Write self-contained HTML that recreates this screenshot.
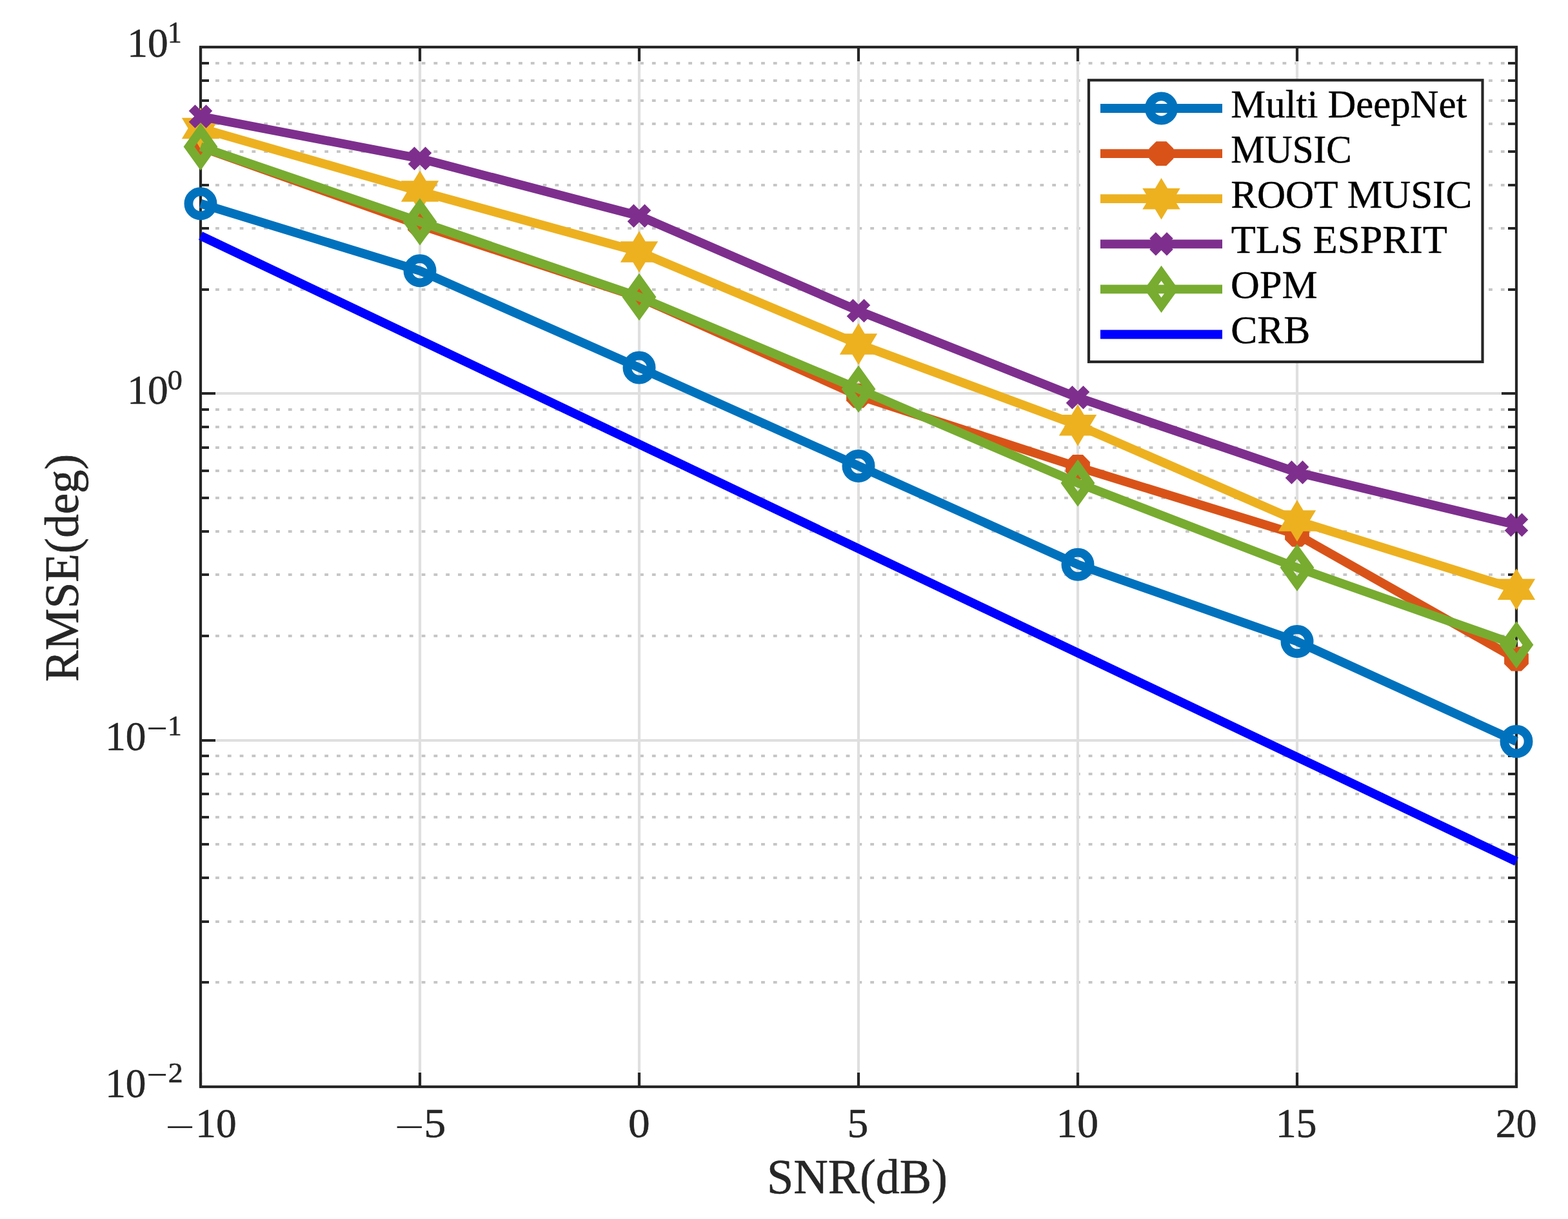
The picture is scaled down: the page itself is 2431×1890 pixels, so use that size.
<!DOCTYPE html>
<html><head><meta charset="utf-8"><title>RMSE vs SNR</title><style>html,body{margin:0;padding:0;background:#fff;overflow:hidden}svg{display:block}</style></head><body>
<svg width="2431" height="1890" viewBox="0 0 2431 1890"><rect width="2431" height="1890" fill="#ffffff"/><g>
<line x1="315.25" y1="449" x2="2349" y2="449" stroke="#c6c6c6" stroke-width="4.2" stroke-dasharray="5.8 13"/>
<line x1="315.25" y1="354" x2="2349" y2="354" stroke="#c6c6c6" stroke-width="4.2" stroke-dasharray="5.8 13"/>
<line x1="315.25" y1="287" x2="2349" y2="287" stroke="#c6c6c6" stroke-width="4.2" stroke-dasharray="5.8 13"/>
<line x1="315.25" y1="235" x2="2349" y2="235" stroke="#c6c6c6" stroke-width="4.2" stroke-dasharray="5.8 13"/>
<line x1="315.25" y1="192" x2="2349" y2="192" stroke="#c6c6c6" stroke-width="4.2" stroke-dasharray="5.8 13"/>
<line x1="315.25" y1="156" x2="2349" y2="156" stroke="#c6c6c6" stroke-width="4.2" stroke-dasharray="5.8 13"/>
<line x1="315.25" y1="125" x2="2349" y2="125" stroke="#c6c6c6" stroke-width="4.2" stroke-dasharray="5.8 13"/>
<line x1="315.25" y1="98" x2="2349" y2="98" stroke="#c6c6c6" stroke-width="4.2" stroke-dasharray="5.8 13"/>
<line x1="315.25" y1="986" x2="2349" y2="986" stroke="#c6c6c6" stroke-width="4.2" stroke-dasharray="5.8 13"/>
<line x1="315.25" y1="891" x2="2349" y2="891" stroke="#c6c6c6" stroke-width="4.2" stroke-dasharray="5.8 13"/>
<line x1="315.25" y1="824" x2="2349" y2="824" stroke="#c6c6c6" stroke-width="4.2" stroke-dasharray="5.8 13"/>
<line x1="315.25" y1="772" x2="2349" y2="772" stroke="#c6c6c6" stroke-width="4.2" stroke-dasharray="5.8 13"/>
<line x1="315.25" y1="730" x2="2349" y2="730" stroke="#c6c6c6" stroke-width="4.2" stroke-dasharray="5.8 13"/>
<line x1="315.25" y1="694" x2="2349" y2="694" stroke="#c6c6c6" stroke-width="4.2" stroke-dasharray="5.8 13"/>
<line x1="315.25" y1="662" x2="2349" y2="662" stroke="#c6c6c6" stroke-width="4.2" stroke-dasharray="5.8 13"/>
<line x1="315.25" y1="635" x2="2349" y2="635" stroke="#c6c6c6" stroke-width="4.2" stroke-dasharray="5.8 13"/>
<line x1="315.25" y1="1523" x2="2349" y2="1523" stroke="#c6c6c6" stroke-width="4.2" stroke-dasharray="5.8 13"/>
<line x1="315.25" y1="1429" x2="2349" y2="1429" stroke="#c6c6c6" stroke-width="4.2" stroke-dasharray="5.8 13"/>
<line x1="315.25" y1="1361" x2="2349" y2="1361" stroke="#c6c6c6" stroke-width="4.2" stroke-dasharray="5.8 13"/>
<line x1="315.25" y1="1309" x2="2349" y2="1309" stroke="#c6c6c6" stroke-width="4.2" stroke-dasharray="5.8 13"/>
<line x1="315.25" y1="1267" x2="2349" y2="1267" stroke="#c6c6c6" stroke-width="4.2" stroke-dasharray="5.8 13"/>
<line x1="315.25" y1="1231" x2="2349" y2="1231" stroke="#c6c6c6" stroke-width="4.2" stroke-dasharray="5.8 13"/>
<line x1="315.25" y1="1200" x2="2349" y2="1200" stroke="#c6c6c6" stroke-width="4.2" stroke-dasharray="5.8 13"/>
<line x1="315.25" y1="1172" x2="2349" y2="1172" stroke="#c6c6c6" stroke-width="4.2" stroke-dasharray="5.8 13"/>
<line x1="651" y1="73.0" x2="651" y2="1685.0" stroke="#dfdfdf" stroke-width="4.2"/>
<line x1="991" y1="73.0" x2="991" y2="1685.0" stroke="#dfdfdf" stroke-width="4.2"/>
<line x1="1331" y1="73.0" x2="1331" y2="1685.0" stroke="#dfdfdf" stroke-width="4.2"/>
<line x1="1671" y1="73.0" x2="1671" y2="1685.0" stroke="#dfdfdf" stroke-width="4.2"/>
<line x1="2011" y1="73.0" x2="2011" y2="1685.0" stroke="#dfdfdf" stroke-width="4.2"/>
<line x1="311.0" y1="610" x2="2351.0" y2="610" stroke="#dfdfdf" stroke-width="4.2"/>
<line x1="311.0" y1="1148" x2="2351.0" y2="1148" stroke="#dfdfdf" stroke-width="4.2"/>
<path d="M311 73h23M2351 73h-23M311 610h23M2351 610h-23M311 449h13M2351 449h-13M311 354h13M2351 354h-13M311 287h13M2351 287h-13M311 235h13M2351 235h-13M311 192h13M2351 192h-13M311 156h13M2351 156h-13M311 125h13M2351 125h-13M311 98h13M2351 98h-13M311 1148h23M2351 1148h-23M311 986h13M2351 986h-13M311 891h13M2351 891h-13M311 824h13M2351 824h-13M311 772h13M2351 772h-13M311 730h13M2351 730h-13M311 694h13M2351 694h-13M311 662h13M2351 662h-13M311 635h13M2351 635h-13M311 1685h23M2351 1685h-23M311 1523h13M2351 1523h-13M311 1429h13M2351 1429h-13M311 1361h13M2351 1361h-13M311 1309h13M2351 1309h-13M311 1267h13M2351 1267h-13M311 1231h13M2351 1231h-13M311 1200h13M2351 1200h-13M311 1172h13M2351 1172h-13M311 1685v-22M311 73v22M651 1685v-22M651 73v22M991 1685v-22M991 73v22M1331 1685v-22M1331 73v22M1671 1685v-22M1671 73v22M2011 1685v-22M2011 73v22M2351 1685v-22M2351 73v22" stroke="#262626" stroke-width="4.2" fill="none"/>
<rect x="311.0" y="73.0" width="2040.0" height="1612.0" fill="none" stroke="#262626" stroke-width="4.2" stroke-linejoin="miter" stroke-linecap="square"/>
</g>
<path d="M311 315.7L651 419.8L991 570L1331 722.4L1671 875.2L2011 994.6L2351 1149.6" fill="none" stroke="#0072bd" stroke-width="13.8" stroke-linejoin="round"/>
<circle cx="311" cy="315.7" r="18.6" fill="none" stroke="#0072bd" stroke-width="13.8"/>
<circle cx="651" cy="419.8" r="18.6" fill="none" stroke="#0072bd" stroke-width="13.8"/>
<circle cx="991" cy="570" r="18.6" fill="none" stroke="#0072bd" stroke-width="13.8"/>
<circle cx="1331" cy="722.4" r="18.6" fill="none" stroke="#0072bd" stroke-width="13.8"/>
<circle cx="1671" cy="875.2" r="18.6" fill="none" stroke="#0072bd" stroke-width="13.8"/>
<circle cx="2011" cy="994.6" r="18.6" fill="none" stroke="#0072bd" stroke-width="13.8"/>
<circle cx="2351" cy="1149.6" r="18.6" fill="none" stroke="#0072bd" stroke-width="13.8"/>
<path d="M311 228L651 349L991 461L1331 613.5L1671 724L2011 828.9L2351 1021.7" fill="none" stroke="#d95319" stroke-width="13.8" stroke-linejoin="round"/>
<polygon points="329.9,235.83 318.83,246.9 303.17,246.9 292.1,235.83 292.1,220.17 303.17,209.1 318.83,209.1 329.9,220.17" fill="#d95319"/>
<polygon points="669.9,356.83 658.83,367.9 643.17,367.9 632.1,356.83 632.1,341.17 643.17,330.1 658.83,330.1 669.9,341.17" fill="#d95319"/>
<polygon points="1009.9,468.83 998.83,479.9 983.17,479.9 972.1,468.83 972.1,453.17 983.17,442.1 998.83,442.1 1009.9,453.17" fill="#d95319"/>
<polygon points="1349.9,621.33 1338.83,632.4 1323.17,632.4 1312.1,621.33 1312.1,605.67 1323.17,594.6 1338.83,594.6 1349.9,605.67" fill="#d95319"/>
<polygon points="1689.9,731.83 1678.83,742.9 1663.17,742.9 1652.1,731.83 1652.1,716.17 1663.17,705.1 1678.83,705.1 1689.9,716.17" fill="#d95319"/>
<polygon points="2029.9,836.73 2018.83,847.8 2003.17,847.8 1992.1,836.73 1992.1,821.07 2003.17,810 2018.83,810 2029.9,821.07" fill="#d95319"/>
<polygon points="2369.9,1029.53 2358.83,1040.6 2343.17,1040.6 2332.1,1029.53 2332.1,1013.87 2343.17,1002.8 2358.83,1002.8 2369.9,1013.87" fill="#d95319"/>
<path d="M311 198.9L651 296.6L991 390.4L1331 533.5L1671 659.2L2011 807.5L2351 913.7" fill="none" stroke="#edb120" stroke-width="13.8" stroke-linejoin="round"/>
<polygon points="311,166.7 320.61,182.65 340.2,182.65 330.41,198.9 340.2,215.15 320.61,215.15 311,231.1 301.39,215.15 281.8,215.15 291.59,198.9 281.8,182.65 301.39,182.65" fill="#edb120"/>
<polygon points="651,264.4 660.61,280.35 680.2,280.35 670.41,296.6 680.2,312.85 660.61,312.85 651,328.8 641.39,312.85 621.8,312.85 631.59,296.6 621.8,280.35 641.39,280.35" fill="#edb120"/>
<polygon points="991,358.2 1000.61,374.15 1020.2,374.15 1010.41,390.4 1020.2,406.65 1000.61,406.65 991,422.6 981.39,406.65 961.8,406.65 971.59,390.4 961.8,374.15 981.39,374.15" fill="#edb120"/>
<polygon points="1331,501.3 1340.61,517.25 1360.2,517.25 1350.41,533.5 1360.2,549.75 1340.61,549.75 1331,565.7 1321.39,549.75 1301.8,549.75 1311.59,533.5 1301.8,517.25 1321.39,517.25" fill="#edb120"/>
<polygon points="1671,627 1680.61,642.95 1700.2,642.95 1690.41,659.2 1700.2,675.45 1680.61,675.45 1671,691.4 1661.39,675.45 1641.8,675.45 1651.59,659.2 1641.8,642.95 1661.39,642.95" fill="#edb120"/>
<polygon points="2011,775.3 2020.61,791.25 2040.2,791.25 2030.41,807.5 2040.2,823.75 2020.61,823.75 2011,839.7 2001.39,823.75 1981.8,823.75 1991.59,807.5 1981.8,791.25 2001.39,791.25" fill="#edb120"/>
<polygon points="2351,881.5 2360.61,897.45 2380.2,897.45 2370.41,913.7 2380.2,929.95 2360.61,929.95 2351,945.9 2341.39,929.95 2321.8,929.95 2331.59,913.7 2321.8,897.45 2341.39,897.45" fill="#edb120"/>
<path d="M311 180.5L651 245.7L991 334.7L1331 481.8L1671 616.3L2011 732.4L2351 813.9" fill="none" stroke="#7e2f8e" stroke-width="13.8" stroke-linejoin="round"/>
<path d="M297.6 167.1L324.4 193.9M297.6 193.9L324.4 167.1" stroke="#7e2f8e" stroke-width="13.8" fill="none"/>
<path d="M637.6 232.3L664.4 259.1M637.6 259.1L664.4 232.3" stroke="#7e2f8e" stroke-width="13.8" fill="none"/>
<path d="M977.6 321.3L1004.4 348.1M977.6 348.1L1004.4 321.3" stroke="#7e2f8e" stroke-width="13.8" fill="none"/>
<path d="M1317.6 468.4L1344.4 495.2M1317.6 495.2L1344.4 468.4" stroke="#7e2f8e" stroke-width="13.8" fill="none"/>
<path d="M1657.6 602.9L1684.4 629.7M1657.6 629.7L1684.4 602.9" stroke="#7e2f8e" stroke-width="13.8" fill="none"/>
<path d="M1997.6 719L2024.4 745.8M1997.6 745.8L2024.4 719" stroke="#7e2f8e" stroke-width="13.8" fill="none"/>
<path d="M2337.6 800.5L2364.4 827.3M2337.6 827.3L2364.4 800.5" stroke="#7e2f8e" stroke-width="13.8" fill="none"/>
<path d="M311 227.5L651 343.9L991 460.4L1331 603.2L1671 748.9L2011 880.1L2351 999.8" fill="none" stroke="#77ac30" stroke-width="13.8" stroke-linejoin="round"/>
<path d="M311 202.65L328.9 227.5L311 252.35L293.1 227.5Z" fill="none" stroke="#77ac30" stroke-width="13.8" stroke-linejoin="miter"/>
<path d="M651 319.05L668.9 343.9L651 368.75L633.1 343.9Z" fill="none" stroke="#77ac30" stroke-width="13.8" stroke-linejoin="miter"/>
<path d="M991 435.55L1008.9 460.4L991 485.25L973.1 460.4Z" fill="none" stroke="#77ac30" stroke-width="13.8" stroke-linejoin="miter"/>
<path d="M1331 578.35L1348.9 603.2L1331 628.05L1313.1 603.2Z" fill="none" stroke="#77ac30" stroke-width="13.8" stroke-linejoin="miter"/>
<path d="M1671 724.05L1688.9 748.9L1671 773.75L1653.1 748.9Z" fill="none" stroke="#77ac30" stroke-width="13.8" stroke-linejoin="miter"/>
<path d="M2011 855.25L2028.9 880.1L2011 904.95L1993.1 880.1Z" fill="none" stroke="#77ac30" stroke-width="13.8" stroke-linejoin="miter"/>
<path d="M2351 974.95L2368.9 999.8L2351 1024.65L2333.1 999.8Z" fill="none" stroke="#77ac30" stroke-width="13.8" stroke-linejoin="miter"/>
<path d="M311 365.4L2351 1335.7" fill="none" stroke="#0000ff" stroke-width="13.8" stroke-linejoin="round"/>
<rect x="1688" y="124.3" width="610.5" height="436.7" fill="#ffffff" stroke="#262626" stroke-width="4.2"/>
<line x1="1706.0" y1="168" x2="1895.0" y2="168" stroke="#0072bd" stroke-width="13.8"/>
<circle cx="1800.5" cy="168" r="18.6" fill="none" stroke="#0072bd" stroke-width="13.8"/>
<line x1="1706.0" y1="238.1" x2="1895.0" y2="238.1" stroke="#d95319" stroke-width="13.8"/>
<polygon points="1819.4,245.93 1808.33,257 1792.67,257 1781.6,245.93 1781.6,230.27 1792.67,219.2 1808.33,219.2 1819.4,230.27" fill="#d95319"/>
<line x1="1706.0" y1="308.2" x2="1895.0" y2="308.2" stroke="#edb120" stroke-width="13.8"/>
<polygon points="1800.5,276 1810.11,291.95 1829.7,291.95 1819.91,308.2 1829.7,324.45 1810.11,324.45 1800.5,340.4 1790.89,324.45 1771.3,324.45 1781.09,308.2 1771.3,291.95 1790.89,291.95" fill="#edb120"/>
<line x1="1706.0" y1="378.3" x2="1895.0" y2="378.3" stroke="#7e2f8e" stroke-width="13.8"/>
<path d="M1787.1 364.9L1813.9 391.7M1787.1 391.7L1813.9 364.9" stroke="#7e2f8e" stroke-width="13.8" fill="none"/>
<line x1="1706.0" y1="448.4" x2="1895.0" y2="448.4" stroke="#77ac30" stroke-width="13.8"/>
<path d="M1800.5 423.55L1818.4 448.4L1800.5 473.25L1782.6 448.4Z" fill="none" stroke="#77ac30" stroke-width="13.8" stroke-linejoin="miter"/>
<line x1="1706.0" y1="518.5" x2="1895.0" y2="518.5" stroke="#0000ff" stroke-width="13.8"/>
<text transform="matrix(0.60751 0 0 0.60305 1908.28 181.80)" font-family="'Liberation Serif', serif" font-size="100" fill="#000000" stroke="#000000" stroke-width="0.66" stroke-linejoin="round">Multi DeepNet</text>
<text transform="matrix(0.59156 0 0 0.60305 1908.33 251.90)" font-family="'Liberation Serif', serif" font-size="100" fill="#000000" stroke="#000000" stroke-width="0.67" stroke-linejoin="round">MUSIC</text>
<text transform="matrix(0.61094 0 0 0.60305 1908.27 322.00)" font-family="'Liberation Serif', serif" font-size="100" fill="#000000" stroke="#000000" stroke-width="0.66" stroke-linejoin="round">ROOT MUSIC</text>
<text transform="matrix(0.62498 0 0 0.60305 1908.85 392.10)" font-family="'Liberation Serif', serif" font-size="100" fill="#000000" stroke="#000000" stroke-width="0.65" stroke-linejoin="round">TLS ESPRIT</text>
<text transform="matrix(0.62095 0 0 0.60305 1908.12 462.20)" font-family="'Liberation Serif', serif" font-size="100" fill="#000000" stroke="#000000" stroke-width="0.65" stroke-linejoin="round">OPM</text>
<text transform="matrix(0.61571 0 0 0.60305 1908.14 532.30)" font-family="'Liberation Serif', serif" font-size="100" fill="#000000" stroke="#000000" stroke-width="0.66" stroke-linejoin="round">CRB</text>
<text transform="matrix(0.81720 0 0 0.58000 255.91 1766.54)" font-family="'Liberation Serif', serif" font-size="100" fill="#262626">−</text>
<text transform="matrix(0.63333 0 0 0.64122 303.30 1763.00)" font-family="'Liberation Serif', serif" font-size="100" fill="#262626" stroke="#262626" stroke-width="0.94" stroke-linejoin="round">10</text>
<text transform="matrix(0.82366 0 0 0.58000 611.58 1766.54)" font-family="'Liberation Serif', serif" font-size="100" fill="#262626">−</text>
<text transform="matrix(0.68000 0 0 0.64122 657.32 1763.00)" font-family="'Liberation Serif', serif" font-size="100" fill="#262626" stroke="#262626" stroke-width="0.91" stroke-linejoin="round">5</text>
<text transform="matrix(0.67381 0 0 0.64122 974.00 1763.00)" font-family="'Liberation Serif', serif" font-size="100" fill="#262626" stroke="#262626" stroke-width="0.91" stroke-linejoin="round">0</text>
<text transform="matrix(0.65000 0 0 0.64122 1313.80 1763.00)" font-family="'Liberation Serif', serif" font-size="100" fill="#262626" stroke="#262626" stroke-width="0.93" stroke-linejoin="round">5</text>
<text transform="matrix(0.65517 0 0 0.64122 1637.60 1763.00)" font-family="'Liberation Serif', serif" font-size="100" fill="#262626" stroke="#262626" stroke-width="0.93" stroke-linejoin="round">10</text>
<text transform="matrix(0.63448 0 0 0.64122 1978.09 1763.00)" font-family="'Liberation Serif', serif" font-size="100" fill="#262626" stroke="#262626" stroke-width="0.94" stroke-linejoin="round">15</text>
<text transform="matrix(0.63934 0 0 0.64122 2318.72 1763.00)" font-family="'Liberation Serif', serif" font-size="100" fill="#262626" stroke="#262626" stroke-width="0.94" stroke-linejoin="round">20</text>
<text transform="matrix(0.63448 0 0 0.64122 197.19 88.00)" font-family="'Liberation Serif', serif" font-size="100" fill="#262626" stroke="#262626" stroke-width="0.94" stroke-linejoin="round">10</text>
<text transform="matrix(0.43429 0 0 0.46183 259.99 66.00)" font-family="'Liberation Serif', serif" font-size="100" fill="#262626" stroke="#262626" stroke-width="1.34" stroke-linejoin="round">1</text>
<text transform="matrix(0.63448 0 0 0.64122 197.19 626.00)" font-family="'Liberation Serif', serif" font-size="100" fill="#262626" stroke="#262626" stroke-width="0.94" stroke-linejoin="round">10</text>
<text transform="matrix(0.46190 0 0 0.44741 259.85 603.55)" font-family="'Liberation Serif', serif" font-size="100" fill="#262626" stroke="#262626" stroke-width="1.32" stroke-linejoin="round">0</text>
<text transform="matrix(0.63333 0 0 0.64122 163.20 1163.00)" font-family="'Liberation Serif', serif" font-size="100" fill="#262626" stroke="#262626" stroke-width="0.94" stroke-linejoin="round">10</text>
<text transform="matrix(0.43429 0 0 0.44656 259.99 1140.00)" font-family="'Liberation Serif', serif" font-size="100" fill="#262626" stroke="#262626" stroke-width="1.36" stroke-linejoin="round">1</text>
<text transform="matrix(0.57849 0 0 0.56000 227.21 1147.98)" font-family="'Liberation Serif', serif" font-size="100" fill="#262626">−</text>
<text transform="matrix(0.63333 0 0 0.64122 163.20 1700.90)" font-family="'Liberation Serif', serif" font-size="100" fill="#262626" stroke="#262626" stroke-width="0.94" stroke-linejoin="round">10</text>
<text transform="matrix(0.45750 0 0 0.44091 260.74 1678.00)" font-family="'Liberation Serif', serif" font-size="100" fill="#262626" stroke="#262626" stroke-width="1.34" stroke-linejoin="round">2</text>
<text transform="matrix(0.57849 0 0 0.56000 227.21 1685.08)" font-family="'Liberation Serif', serif" font-size="100" fill="#262626">−</text>
<text transform="matrix(0.74060 0 0 0.75573 1189.09 1850.30)" font-family="'Liberation Serif', serif" font-size="100" fill="#262626" stroke="#262626" stroke-width="0.80" stroke-linejoin="round">SNR(dB)</text>
<text transform="translate(120.7 1057.04) rotate(-90) scale(0.73057 0.74809)" font-family="'Liberation Serif', serif" font-size="100" fill="#262626" stroke="#262626" stroke-width="0.81" stroke-linejoin="round">RMSE(deg)</text></svg>
</body></html>
